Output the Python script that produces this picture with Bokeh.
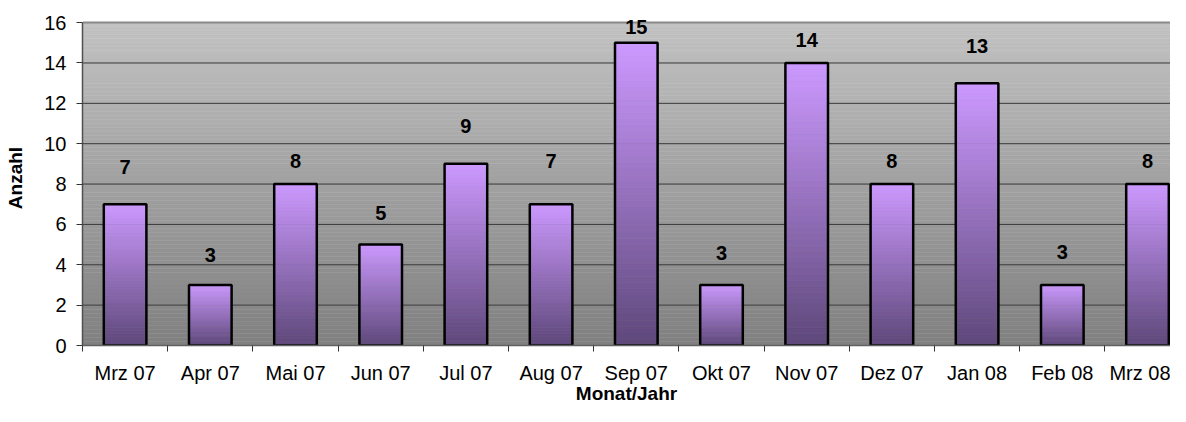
from bokeh.plotting import figure
from bokeh.models import Range1d, FixedTicker, ColumnDataSource, LabelSet
from bokeh.core.properties import value
from bokeh.embed import file_html
from bokeh.resources import INLINE

# ---- data ----
months = ["Mrz 07", "Apr 07", "Mai 07", "Jun 07", "Jul 07", "Aug 07", "Sep 07",
          "Okt 07", "Nov 07", "Dez 07", "Jan 08", "Feb 08", "Mrz 08"]
counts = [7, 3, 8, 5, 9, 7, 15, 3, 14, 8, 13, 3, 8]
y_ticks = [0, 2, 4, 6, 8, 10, 12, 14, 16]
y_max = 16
x_title = "Monat/Jahr"
y_title = "Anzahl"

# ---- styles ----
label_gap_px = [30, 23, 16, 25, 31, 36, 9, 25, 16, 16, 30, 26, 16]
FONT = "Liberation Sans"
BAR_TOP = (204, 153, 255)
BAR_BOTTOM = (94, 72, 122)
BG_TOP = (194, 194, 194)
BG_BOTTOM = (128, 128, 128)
HEADROOM = 0.6          # white space above the plot area, in value units
PLOT_TOP_PX = 22
PLOT_H_PX = 323


def mix(c0, c1, t):
    return "#%02x%02x%02x" % tuple(int(round(a + (b - a) * t)) for a, b in zip(c0, c1))


n = len(months)
centers = [i + 0.5 for i in range(n)]
top_border = int(round(PLOT_TOP_PX - HEADROOM * PLOT_H_PX / y_max))

p = figure(width=1170, height=406, output_backend="svg", toolbar_location=None,
           x_range=Range1d(0, 12.77), y_range=Range1d(0, y_max + HEADROOM),
           min_border_left=82, min_border_right=0, min_border_top=top_border,
           min_border_bottom=61)
p.outline_line_color = None
p.xgrid.visible = False
p.ygrid.visible = False
p.background_fill_color = "white"
p.border_fill_color = "white"

# background gradient (plot area 0..y_max)
NB = 80
bg_b = [y_max * k / NB for k in range(NB)]
bg_t = [y_max * (k + 1) / NB for k in range(NB)]
bg_c = [mix(BG_BOTTOM, BG_TOP, (k + 0.5) / NB) for k in range(NB)]
p.quad(left=0, right=n, bottom=bg_b, top=bg_t, fill_color=bg_c, line_color=bg_c,
       line_width=0.5)

# grid lines
grid_y = [t for t in y_ticks if 0 < t < y_max]
p.segment(x0=0, x1=n, y0=grid_y, y1=grid_y, line_color="#383838", line_width=1)
p.segment(x0=0, x1=n, y0=y_max, y1=y_max, line_color="#8a8a8a", line_width=2)

# bars with gradient
NS = 48
xs, bs, ts, cs = [], [], [], []
for c, v in zip(centers, counts):
    for k in range(NS):
        xs.append(c)
        bs.append(v * k / NS)
        ts.append(v * (k + 1) / NS)
        cs.append(mix(BAR_BOTTOM, BAR_TOP, (k + 0.5) / NS))
p.vbar(x=xs, width=0.5, bottom=bs, top=ts, fill_color=cs, line_color=cs, line_width=0.5)
p.vbar(x=centers, width=0.5, bottom=0, top=counts, fill_color=None,
       line_color="black", line_width=2.5)

# value labels
lsrc = ColumnDataSource(dict(x=centers, y=counts, t=[str(v) for v in counts],
                             off=label_gap_px))
labels = LabelSet(x="x", y="y", text="t", y_offset="off", source=lsrc,
                  text_align="center", text_baseline="alphabetic",
                  text_font=value(FONT), text_font_size="20px",
                  text_font_style="bold", text_color="black")
p.add_layout(labels)

# x axis
xa = p.xaxis[0]
xa.ticker = FixedTicker(ticks=centers, minor_ticks=list(range(n + 1)))
xa.major_label_overrides = {c: m for c, m in zip(centers, months)}
xa.major_tick_line_color = None
xa.major_tick_in = 0
xa.major_tick_out = 6
xa.minor_tick_in = 0
xa.minor_tick_out = 6
xa.minor_tick_line_color = "#333333"
xa.axis_line_color = "#606060"
xa.axis_line_width = 1.5
xa.major_label_standoff = 10
xa.axis_label = x_title
xa.axis_label_standoff = -4

# y axis
ya = p.yaxis[0]
ya.ticker = FixedTicker(ticks=y_ticks, minor_ticks=[])
ya.bounds = (0, y_max)
ya.major_tick_in = 0
ya.major_tick_out = 6
ya.major_tick_line_color = "#333333"
ya.minor_tick_line_color = None
ya.axis_line_color = "#505050"
ya.axis_line_width = 1.5
ya.major_label_standoff = 10
ya.axis_label = y_title
ya.axis_label_standoff = 15

for ax in (xa, ya):
    ax.major_label_text_font = FONT
    ax.major_label_text_font_size = "20px"
    ax.major_label_text_color = "black"
    ax.axis_label_text_font = FONT
    ax.axis_label_text_font_size = "19px"
    ax.axis_label_text_font_style = "bold"
    ax.axis_label_text_color = "black"

open("out.html", "w").write(file_html(p, INLINE))
